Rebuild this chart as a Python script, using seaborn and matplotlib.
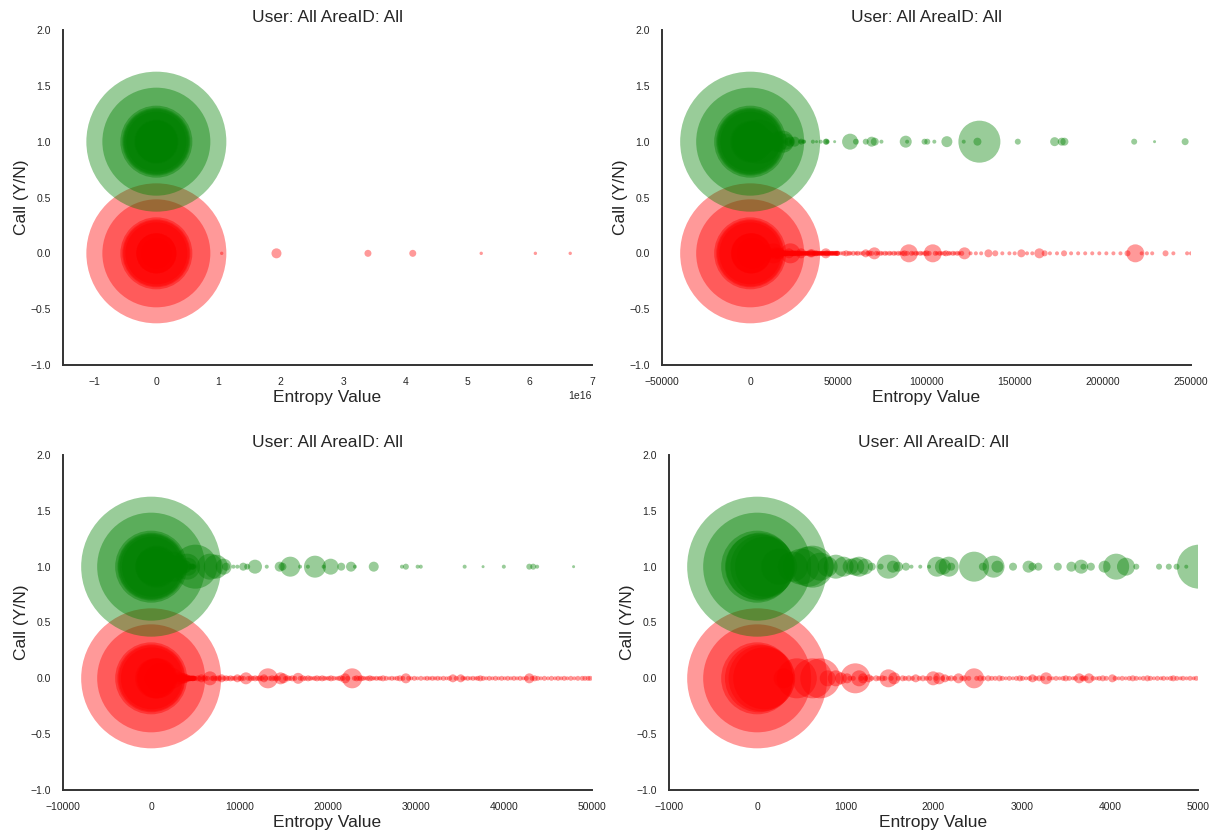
import numpy as np
import pandas as pd
import matplotlib
matplotlib.use("Agg")
import matplotlib.pyplot as plt
import seaborn as sns

# ---------------- data ----------------
# entropy values (x) and marker radii (px) for calls = 1 (green)
green_entropy = [0, 0, 0, 30, 60, 90, 10,
                 250, 406, 500, 583, 627, 716, 800, 892, 981, 1060, 1113, 1157, 1223, 1300, 1400,
                 1489, 1540, 1599, 1687, 1750, 1850, 1950, 2041, 2107, 2173, 2200, 2460, 2560,
                 2681, 2725, 2902, 3078, 3123, 3189, 3410, 3564, 3675, 3700, 3785, 3940, 4072,
                 4183, 4300, 4558, 4669, 4757, 4867, 5010,
                 6667, 7333, 8222, 8500, 9333, 9778, 10444, 10889, 11778, 13111, 14578, 14889,
                 15778, 16889, 17778, 18578, 19556, 20356, 21556, 22667, 23111, 25244, 28444,
                 28889, 30222, 30578, 35555, 37644, 40000, 42889, 43333, 43778, 47911,
                 56667, 60000, 65555, 68889, 70667, 74444, 88222, 89000, 98889, 100444, 104444,
                 111556, 121111, 128888, 130000, 151778, 172667, 176667, 178222, 217778,
                 229333, 246667]
green_radius = [70, 54, 36, 34, 32, 30, 33,
                18, 15, 18, 20, 21, 14, 10, 12, 10, 8, 9, 10, 8, 4, 3,
                12, 6, 5, 4, 2, 2, 2, 10, 8, 10, 4, 15, 4,
                11, 6, 4, 6, 4, 4, 4, 5, 7, 3, 4, 6, 13,
                9, 3, 3, 3, 3, 2, 22,
                13, 12, 8, 4, 2, 2, 4, 3, 7, 2, 5, 4,
                10, 2, 2, 11, 2, 8, 4, 5, 2, 5, 2,
                3, 2, 2, 2, 1.5, 2, 3, 3, 2, 1.5,
                8, 3, 3, 5, 4, 2, 6, 2, 3, 3, 2,
                5.5, 2, 4, 21, 3, 4.5, 4, 4, 3,
                1.5, 3.5]

# entropy values (x) and marker radii (px) for calls = 0 (red)
red_entropy = [0, 0, 0, 20, 50, 80,
               300, 450, 627, 716, 800, 892, 950, 1020, 1113, 1157, 1200, 1267, 1350, 1420,
               1489, 1554, 1650, 1720, 1798, 1880, 1996, 2063, 2130, 2200, 2284, 2350, 2460,
               2530, 2620, 2747, 2820, 2900, 2980, 3050, 3123, 3200, 3277, 3350, 3430, 3500,
               3580, 3653, 3700, 3763, 3850, 3920, 4028, 4100, 4180, 4260, 4340, 4426, 4500,
               4580, 4650, 4720, 4800, 4870, 4950,
               5300, 5700, 6100, 6667, 7100, 7600, 8000, 8500, 9000, 9778, 10200, 10756, 11300,
               11800, 12300, 12800, 13244, 13700, 14200, 14667, 15000, 15500, 16000, 16667,
               17200, 17800, 18300, 18800, 19400, 19900, 20400, 21000, 21500, 22000, 22800,
               23300, 23800, 24300, 24800, 25300, 25800, 26300, 27000, 27600, 28200, 28889,
               29500, 30200, 31000, 31600, 32200, 32800, 33500, 34222, 35111, 35600, 36200,
               36800, 37333, 38000, 38700, 39400, 40100, 40800, 41500, 42200, 42889, 43500,
               44200, 45000, 45800, 46500, 47200, 48000, 48889, 49555,
               51500, 54444, 57000, 60000, 62500, 65555, 67500, 70444, 72500, 75000, 77500,
               80000, 82500, 85000, 87500, 90000, 92500, 95000, 97500, 100000, 103556, 106000,
               108500, 111000, 113500, 116000, 118500, 121556, 125000, 128000, 131000, 135111,
               139000, 143000, 147000, 150000, 153778, 157000, 160000, 164000, 167000, 170000,
               174000, 178000, 182000, 186000, 190000, 194000, 198000, 202000, 206000, 210000,
               214000, 218444, 222000, 225000, 228000, 235556, 240000, 247777, 250000,
               1.05e16, 1.93e16, 3.40e16, 4.12e16, 5.22e16, 6.09e16, 6.65e16]
red_radius = [70, 54, 36, 34, 33, 31,
              10, 20, 20, 20, 8, 8, 6, 5, 15, 8, 5, 4, 3, 3,
              9, 6, 3, 3, 4, 3, 7, 6, 4, 3, 5, 3, 10,
              3, 3, 3, 2, 2, 3, 2, 4, 3, 6, 2, 2, 3,
              2, 5, 3, 5, 2, 3, 4, 2, 2, 3, 2, 3, 2,
              2, 2, 3, 2, 2, 2,
              3, 4, 3, 7, 3, 3, 4, 3, 3, 4, 3, 6, 3,
              3, 3, 4, 10, 3, 3, 6, 5, 3, 3, 5.5,
              3, 3, 2, 3, 3, 2, 3, 2, 3, 5, 10,
              3, 3, 2, 3, 2, 2, 3, 2, 2, 3, 5,
              2, 2, 2, 2, 2, 2, 2, 4, 4, 2, 2,
              2, 3, 2, 2, 2, 2, 2, 2, 2, 5, 3,
              2, 2, 2, 2, 2, 2, 2.5, 2.5,
              2, 3, 2, 2, 2, 4, 3, 6, 2, 2, 2,
              2, 2, 2, 3, 9, 2, 2, 2, 3, 9, 2,
              2, 3, 2, 2, 2, 6, 2, 2, 2, 4,
              3, 2, 2, 2, 4, 2, 2, 5, 3, 2,
              2, 3, 2, 2, 2, 2, 2, 2, 2, 2,
              3, 9, 2, 2, 2, 3, 2, 2, 2,
              1.7, 5, 3.5, 3.5, 1.7, 1.7, 1.7]

# many single-occurrence (tiny) red entropy values forming the dense line
red_single_entropy = [1050, 1090, 1180, 1230, 1300, 1380, 1450, 1520, 1600, 1680, 1760, 1840,
                      1920, 1960, 2030, 2100, 2170, 2240, 2320, 2400, 2490, 2570, 2660, 2700,
                      2780, 2860, 2940, 3010, 3090, 3160, 3240, 3310, 3390, 3470, 3540, 3610,
                      3680, 3730, 3810, 3880, 3960, 4060, 4140, 4220, 4300, 4380, 4460, 4540,
                      4610, 4690, 4760, 4830, 4910, 4980,
                      5500, 5900, 6400, 6900, 7350, 7800, 8250, 8750, 9250, 9500, 10000, 10500,
                      11000, 11550, 12050, 12550, 13000, 13450, 13950, 14450, 15250, 15750,
                      16300, 16900, 17500, 18050, 18550, 19100, 19650, 20150, 20700, 21250,
                      21750, 22300, 23050, 23550, 24050, 24550, 25050, 25550, 26000, 26650,
                      27300, 27900, 28550, 29200, 29850, 30600, 31300, 31900, 32500, 33150,
                      33850, 34600, 35350, 35900, 36500, 37050, 37650, 38350, 39050, 39750,
                      40450, 41150, 41850, 42550, 43200, 43850, 44600, 45400, 46150, 46850,
                      47600, 48400, 49200, 49800,
                      53000, 56000, 58500, 61000, 64000, 66500, 69000, 71500, 74000, 76500,
                      79000, 81500, 84000, 86500, 89000, 91500, 94000, 96500, 99000, 101500,
                      105000, 107500, 110000, 112500, 115000, 117500, 120000]
single_radius = 2.5

panel_xlims = [(-1.5e16, 7e16), (-50000, 250000), (-10000, 50000), (-1000, 5000)]
panel_xticks = [np.arange(-1, 8) * 1e16,
                [-50000, 0, 50000, 100000, 150000, 200000, 250000],
                [-10000, 0, 10000, 20000, 30000, 40000, 50000],
                [-1000, 0, 1000, 2000, 3000, 4000, 5000]]
y_ticks = [-1.0, -0.5, 0.0, 0.5, 1.0, 1.5, 2.0]
title_text = "User: All AreaID: All"

# ---------------- style ----------------
sns.set_theme(style="white")
plt.rcParams["font.family"] = ["Liberation Sans", "DejaVu Sans"]
plt.rcParams["axes.edgecolor"] = "#333333"
plt.rcParams["axes.linewidth"] = 1.4
plt.rcParams["xtick.color"] = "#262626"
plt.rcParams["ytick.color"] = "#262626"

DPI = 100


def to_area(radius_px):
    d_pt = 2 * np.asarray(radius_px, dtype=float) * 72.0 / DPI
    return d_pt ** 2


red_all_x = list(red_entropy) + list(red_single_entropy)
red_all_r = list(red_radius) + [single_radius] * len(red_single_entropy)
red_df = pd.DataFrame({"entropy": red_all_x, "call": 0.0, "area": to_area(red_all_r)})
green_df = pd.DataFrame({"entropy": green_entropy, "call": 1.0, "area": to_area(green_radius)})

fig = plt.figure(figsize=(12.19, 8.32), dpi=DPI)
positions = [
    [63 / 1219, 1 - 365 / 832, 529 / 1219, 335 / 832],
    [662 / 1219, 1 - 365 / 832, 529 / 1219, 335 / 832],
    [63 / 1219, 42 / 832, 529 / 1219, 335 / 832],
    [669 / 1219, 42 / 832, 529 / 1219, 335 / 832],
]

for pos, xl, xt in zip(positions, panel_xlims, panel_xticks):
    ax = fig.add_axes(pos)
    sns.scatterplot(data=red_df, x="entropy", y="call", s=red_df["area"].values,
                    color="red", alpha=0.4, linewidth=0, edgecolor="none",
                    legend=False, ax=ax)
    sns.scatterplot(data=green_df, x="entropy", y="call", s=green_df["area"].values,
                    color="green", alpha=0.4, linewidth=0, edgecolor="none",
                    legend=False, ax=ax)
    ax.set_xlim(*xl)
    ax.set_ylim(-1.0, 2.0)
    ax.set_xticks(xt)
    ax.set_yticks(y_ticks)
    ax.tick_params(labelsize=7.5, pad=2.5)
    ax.xaxis.get_offset_text().set_fontsize(7.5)
    ax.set_title(title_text, fontsize=12.5, color="#262626")
    ax.set_xlabel("Entropy Value", fontsize=12.5, color="#262626", labelpad=2)
    ax.set_ylabel("Call (Y/N)", fontsize=12.5, color="#262626", labelpad=1)
    sns.despine(ax=ax)

fig.savefig("out.png", dpi=DPI)
